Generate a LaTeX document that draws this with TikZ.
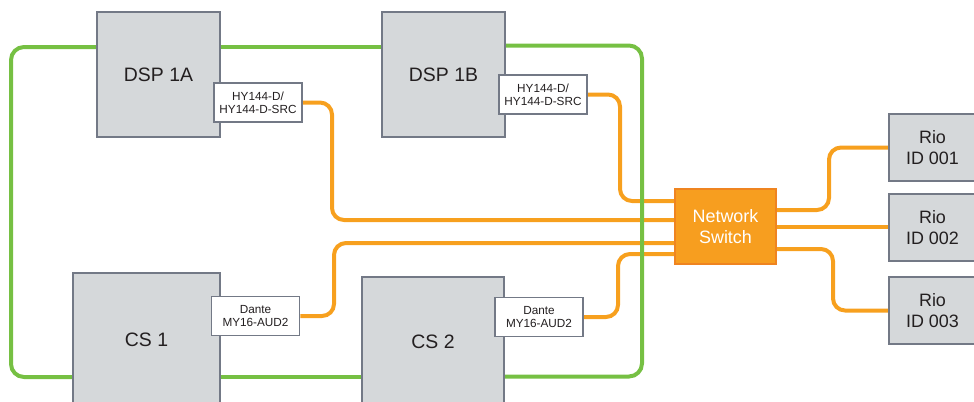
\documentclass[tikz,border=0pt]{standalone}
\usepackage{fontspec}
\setmainfont{Liberation Sans}
\usetikzlibrary{backgrounds}
\definecolor{devfill}{HTML}{D5D8DA}
\definecolor{devdraw}{HTML}{737986}
\definecolor{txt}{HTML}{231F20}
\definecolor{ringgreen}{HTML}{76C043}
\definecolor{cableorange}{HTML}{F7A01E}
\definecolor{swfill}{HTML}{F79E1F}
\definecolor{swdraw}{HTML}{EF8420}
\begin{document}
\begin{tikzpicture}[x=1bp,y=-1bp,
  dev/.style={draw=devdraw, fill=devfill, line width=2bp, inner sep=0pt, text=txt,
    font=\fontsize{19.5}{22}\selectfont},
  rio/.style={draw=devdraw, fill=devfill, line width=2bp, inner sep=0pt, text=txt, align=center,
    minimum width=87bp, minimum height=67bp, font=\fontsize{18}{21.5}\selectfont},
  card/.style={draw=devdraw, fill=white, line width=1.8bp, inner sep=0pt, text=txt, align=center,
    minimum width=88bp, minimum height=39bp, font=\fontsize{11.8}{13.3}\selectfont},
  switchbox/.style={draw=swdraw, fill=swfill, line width=1.5bp, inner sep=0pt, text=white, align=center,
    minimum width=101bp, minimum height=75bp, font=\fontsize{18}{21}\selectfont},
  cable/.style={draw=cableorange, line width=4bp, rounded corners=12bp},
  ring/.style={draw=ringgreen, line width=4bp, rounded corners=13bp}]
\useasboundingbox (0,0) rectangle (974,401);
\clip (0,0) rectangle (974,401);
% devices
\node[dev, minimum width=123bp, minimum height=125bp] (dsp1a) at (158.5,74.5) {DSP 1A};
\node[dev, minimum width=123bp, minimum height=125bp] (dsp1b) at (443.5,74.5) {DSP 1B};
\node[dev, minimum width=147bp, minimum height=134bp] (cs1) at (146.5,340) {CS 1};
\node[dev, minimum width=142bp, minimum height=130bp] (cs2) at (433,342) {CS 2};
\node[card] (hy1a) at (258,102.5) {HY144-D/\\HY144-D-SRC};
\node[card] (hy1b) at (543,94.5) {HY144-D/\\HY144-D-SRC};
\node[card] (dan1) at (255.5,316) {Dante\\MY16-AUD2};
\node[card] (dan2) at (539,317) {Dante\\MY16-AUD2};
\node[switchbox] (sw) at (725.5,226.5) {Network\\Switch};
\node[rio] (rio1) at (932.5,147.5) {Rio\\ID 001};
\node[rio] (rio2) at (932.5,227.5) {Rio\\ID 002};
\node[rio] (rio3) at (932.5,310.5) {Rio\\ID 003};
\begin{scope}[on background layer]
% orange cables
\draw[cable] (hy1a.east) -| (332,220) -- (sw.west |- 0,220);
\draw[cable] (hy1b.east) -| (620,201) -- (sw.west |- 0,201);
\draw[cable] (dan1.east) -| (334,243) -- (sw.west |- 0,243);
\draw[cable] (dan2.east) -| (618,254) -- (sw.west |- 0,254);
\draw[cable] (sw.east |- 0,210) -| (829,147.5) -- (rio1.west);
\draw[cable] (sw.east |- 0,227) -- (rio2.west |- 0,227);
\draw[cable] (sw.east |- 0,249) -| (833,310.5) -- (rio3.west);
% green ring
\draw[ring] (dsp1a.east |- 0,46.5) -- (dsp1b.west |- 0,46.5);
\draw[ring] (dsp1b.east |- 0,45.5) -- (642,45.5) -- (642,376.5) -- (cs2.east |- 0,376.5);
\draw[ring] (cs2.west |- 0,377) -- (cs1.east |- 0,377);
\draw[ring] (cs1.west |- 0,377) -- (11,377) -- (11,47) -- (dsp1a.west |- 0,47);
\end{scope}
\end{tikzpicture}
\end{document}
